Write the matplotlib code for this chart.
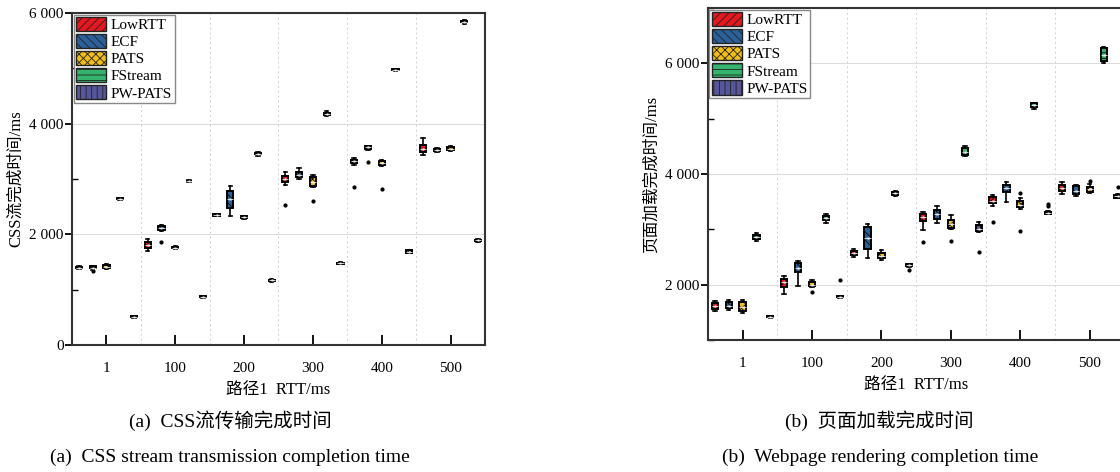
import matplotlib
matplotlib.use('Agg')
import matplotlib.pyplot as plt
from matplotlib.patches import Patch
from matplotlib.ticker import FuncFormatter, MultipleLocator

serif = ['Liberation Serif', 'Noto Sans CJK SC']
plt.rcParams['font.family'] = serif
plt.rcParams['hatch.linewidth'] = 0.6

rtt_labels = ['1', '100', '200', '300', '400', '500']
methods = ['LowRTT', 'ECF', 'PATS', 'FStream', 'PW-PATS']
colors = ['#e5171f', '#2c609a', '#f2bd14', '#34b46c', '#56569a']
hatches = ['////', '\\\\\\\\', 'xxxx', '---', '|||']

# (a) CSS stream completion time, rows = methods, cols = RTT groups
css_med = [[1400, 1810, 2350, 3000, 3320, 3550],
           [1400, 2110, 2640, 3080, 3570, 3520],
           [1410, 1760, 2310, 2950, 3290, 3545],
           [2640, 2960, 3460, 4180, 4970, 5840],
           [510, 870, 1170, 1480, 1690, 1890]]
css_q1 = [[1385, 1760, 2340, 2950, 3290, 3480],
          [1385, 2080, 2480, 3040, 3550, 3505],
          [1385, 1745, 2295, 2880, 3260, 3520],
          [2630, 2955, 3445, 4165, 4965, 5830],
          [500, 860, 1160, 1470, 1670, 1880]]
css_q3 = [[1415, 1860, 2365, 3060, 3350, 3620],
          [1420, 2150, 2780, 3130, 3590, 3545],
          [1440, 1775, 2330, 3030, 3320, 3570],
          [2655, 2970, 3470, 4195, 4980, 5850],
          [520, 880, 1180, 1490, 1710, 1905]]
css_lo = [[1370, 1700, 2330, 2900, 3260, 3440],
          [1360, 2060, 2330, 3000, 3530, 3490],
          [1370, 1730, 2270, 2850, 3240, 3500],
          [2620, 2950, 3420, 4130, 4960, 5800],
          [495, 850, 1140, 1465, 1660, 1870]]
css_hi = [[1430, 1920, 2370, 3130, 3380, 3740],
          [1430, 2170, 2870, 3190, 3600, 3560],
          [1460, 1790, 2340, 3070, 3340, 3590],
          [2660, 2975, 3490, 4230, 4985, 5870],
          [525, 885, 1190, 1495, 1715, 1910]]
css_fliers = [[[], [], [], [2530], [2860], []],
              [[1330], [1860], [], [], [3300], []],
              [[], [], [], [2610], [2820], []],
              [[], [], [], [], [], []],
              [[], [], [], [], [], []]]

# (b) page load completion time
page_med = [[1610, 2050, 2570, 3230, 3520, 3750],
            [1620, 2300, 2850, 3280, 3740, 3700],
            [1600, 2000, 2520, 3100, 3440, 3720],
            [2860, 3200, 3650, 4400, 5250, 6150],
            [1420, 1780, 2350, 3000, 3300, 3600]]
page_q1 = [[1560, 1950, 2540, 3150, 3480, 3690],
           [1570, 2220, 2650, 3190, 3680, 3640],
           [1520, 1970, 2480, 3030, 3400, 3680],
           [2820, 3160, 3620, 4350, 5220, 6040],
           [1410, 1770, 2340, 2970, 3280, 3570]]
page_q3 = [[1660, 2110, 2600, 3280, 3580, 3810],
           [1680, 2400, 3050, 3350, 3800, 3780],
           [1680, 2040, 2580, 3170, 3520, 3770],
           [2900, 3240, 3680, 4470, 5280, 6270],
           [1430, 1790, 2370, 3070, 3320, 3620]]
page_lo = [[1520, 1840, 2500, 2990, 3430, 3640],
           [1540, 1970, 2490, 3120, 3500, 3610],
           [1480, 1950, 2440, 3000, 3370, 3660],
           [2790, 3120, 3600, 4320, 5170, 6000],
           [1400, 1765, 2320, 2950, 3270, 3560]]
page_hi = [[1700, 2160, 2650, 3320, 3620, 3860],
           [1720, 2430, 3100, 3420, 3860, 3800],
           [1720, 2080, 2620, 3260, 3560, 3820],
           [2930, 3270, 3700, 4500, 5290, 6300],
           [1440, 1795, 2375, 3130, 3330, 3640]]
page_fliers = [[[], [], [], [2770], [3130], []],
               [[], [], [], [], [], []],
               [[], [1860], [], [2790], [3660, 2970], [3880]],
               [[], [], [], [], [], []],
               [[], [2090], [2270], [2590], [3430, 3460], [3770]]]

offsets = [-0.4, -0.2, 0.0, 0.2, 0.4]


def space_fmt(v, pos):
    return f'{v:,.0f}'.replace(',', ' ')


def draw(ax, med, q1, q3, lo, hi, fliers, ylim, ylabel):
    for m in range(len(methods)):
        stats = []
        pos = []
        for g in range(len(rtt_labels)):
            stats.append(dict(med=med[m][g], q1=q1[m][g], q3=q3[m][g],
                              whislo=lo[m][g], whishi=hi[m][g],
                              mean=med[m][g], fliers=fliers[m][g]))
            pos.append(g + offsets[m])
        ax.bxp(stats, positions=pos, widths=0.09, capwidths=0.05,
               patch_artist=True, showmeans=True, manage_ticks=False,
               boxprops=dict(facecolor=colors[m], edgecolor='black',
                             linewidth=1.4, hatch=hatches[m]),
               whiskerprops=dict(color='black', linewidth=1.2),
               capprops=dict(color='black', linewidth=1.2),
               medianprops=dict(color='#eeeeee', linewidth=0.6),
               meanprops=dict(marker='s', markerfacecolor='#eeeeee',
                              markeredgecolor='none', markersize=1.8),
               flierprops=dict(marker='o', markerfacecolor='black',
                               markeredgecolor='black', markersize=2))
    ax.set_xlim(-0.5, len(rtt_labels) - 0.5)
    ax.set_ylim(*ylim)
    ax.set_xticks(range(len(rtt_labels)))
    ax.set_xticklabels(rtt_labels)
    ax.yaxis.set_major_locator(MultipleLocator(2000))
    ax.yaxis.set_minor_locator(MultipleLocator(1000))
    ax.yaxis.set_major_formatter(FuncFormatter(space_fmt))
    ax.tick_params(axis='x', direction='in', length=7, width=1.3,
                   pad=12, labelsize=11)
    ax.tick_params(axis='y', which='major', direction='out', length=5,
                   width=1.3, pad=1, labelsize=11)
    ax.tick_params(axis='y', which='minor', direction='in', length=4,
                   width=1.0)
    ax.grid(axis='y', which='major', color='#dddddd', linewidth=0.8)
    for b in range(len(rtt_labels) - 1):
        ax.axvline(b + 0.5, color='#d0d0d0', linestyle=(0, (2, 3)),
                   linewidth=0.7, zorder=0)
    ax.set_axisbelow(True)
    for s in ax.spines.values():
        s.set_color('#333333')
        s.set_linewidth(1.5)
    ax.set_xlabel('路径1  RTT/ms', fontsize=12, labelpad=5)
    ax.set_ylabel(ylabel, fontsize=12, labelpad=4)
    handles = [Patch(facecolor=colors[m], edgecolor='#222222',
                     hatch=hatches[m], label=methods[m])
               for m in range(len(methods))]
    leg = ax.legend(handles=handles, loc='upper left', fontsize=11,
                    handlelength=2.0, handleheight=1.05, labelspacing=0.12,
                    handletextpad=0.3, borderpad=0.15, borderaxespad=0.1,
                    fancybox=False, framealpha=1)
    leg.get_frame().set_edgecolor('#888888')
    leg.get_frame().set_linewidth(1.0)


fig = plt.figure(figsize=(11.2, 4.72), dpi=100)
ax1 = fig.add_axes([0.0643, 0.269, 0.3687, 0.7035])
ax2 = fig.add_axes([0.632, 0.2797, 0.372, 0.7033])

draw(ax1, css_med, css_q1, css_q3, css_lo, css_hi, css_fliers,
     (0, 6000), 'CSS流完成时间/ms')
draw(ax2, page_med, page_q1, page_q3, page_lo, page_hi, page_fliers,
     (1000, 7000), '页面加载完成时间/ms')

fig.text(230 / 1120, 1 - 421 / 472, '(a)  CSS流传输完成时间', ha='center',
         va='center', fontsize=14)
fig.text(230 / 1120, 1 - 457 / 472, '(a)  CSS stream transmission completion time',
         ha='center', va='center', fontsize=14)
fig.text(879 / 1120, 1 - 421 / 472, '(b)  页面加载完成时间', ha='center',
         va='center', fontsize=14)
fig.text(880 / 1120, 1 - 457 / 472, '(b)  Webpage rendering completion time',
         ha='center', va='center', fontsize=14)

fig.savefig('out.png', dpi=100)
